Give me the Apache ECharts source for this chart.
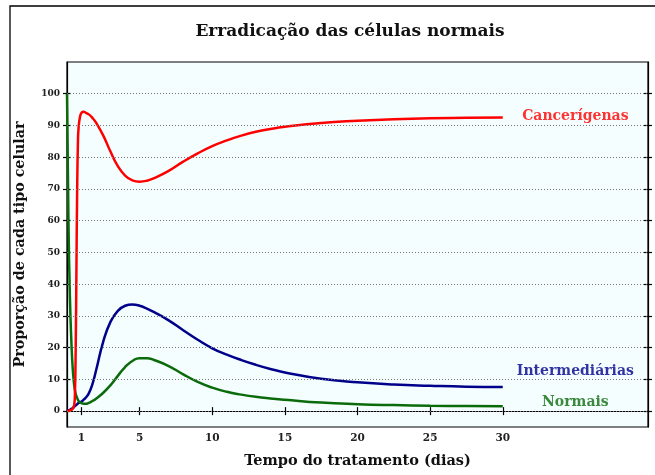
<!DOCTYPE html>
<html>
<head>
    <meta charset="utf-8"/>
    <title>Erradicação das células normais</title>
    <script src="https://cdn.jsdelivr.net/npm/echarts@6/dist/echarts.min.js"></script>
    <style>
        html, body { margin: 0; padding: 0; background: #fff; }
        #main { width: 655px; height: 475px; }
    </style>
</head>
<body>
<div id="main"></div>
<script>
    // tempo (dias)
    let tempo = [0, 0.1, 0.2, 0.3, 0.4, 0.5, 0.55, 0.6, 0.65, 0.7, 0.75, 0.8, 0.9, 1.0, 1.15, 1.3, 1.5, 1.75,
        2, 2.5, 3, 3.5, 4, 4.5, 5, 5.5, 6, 7, 8, 9, 10, 11, 12, 13, 14, 15, 17.5, 20, 22.5, 25, 27.5, 30];
    let cancerigenas = [0, 0.1, 0.2, 0.4, 0.8, 2, 6, 20, 45, 70, 84, 89.5, 92.8, 94, 94.3, 94.0, 93.5, 92.4,
        90.9, 86.8, 81.7, 77.2, 74.2, 72.7, 72.3, 72.6, 73.4, 75.7, 78.6, 81.2, 83.5, 85.3, 86.8, 88.0, 88.9, 89.6,
        90.8, 91.5, 92, 92.3, 92.4, 92.5];
    let intermediarias = [0, 0.2, 0.4, 0.7, 1.0, 1.4, 1.6, 1.8, 2.0, 2.2, 2.4, 2.6, 2.8, 3.0, 3.6, 4.3, 5.6, 8.5,
        12.8, 22, 28.2, 31.6, 33.2, 33.6, 33.2, 32.3, 31.2, 28.6, 25.5, 22.5, 19.8, 17.8, 16.1, 14.6, 13.3, 12.2,
        10.2, 9.1, 8.4, 8.0, 7.7, 7.6];
    let normais = [100, 60, 36, 22, 13, 8, 6.5, 5.4, 4.7, 4.1, 3.6, 3.2, 2.8, 2.5, 2.3, 2.3, 2.6, 3.2,
        3.9, 5.8, 8.2, 11.1, 13.9, 15.8, 16.7, 16.7, 16.1, 14.2, 11.6, 9.2, 7.4, 6.1, 5.2, 4.5, 4.0, 3.6,
        2.7, 2.2, 1.9, 1.7, 1.6, 1.5];

    let xTicks = [1, 5, 10, 15, 20, 25, 30];
    let yTicks = [0, 10, 20, 30, 40, 50, 60, 70, 80, 90, 100];

    let rotulos = ['Cancerígenas', 'Intermediárias', 'Normais'];
    let rotuloX = [35, 35, 35];
    let rotuloY = [92.8, 12.6, 2.8];
    let cores = ['#ff0000', '#00008b', '#0b6b0b'];

    let serif = '"DejaVu Serif", "Liberation Serif", serif';

    function pares(ys) {
        let out = [];
        for (let i = 0; i < tempo.length; i++) out.push([tempo[i], ys[i]]);
        return out;
    }

    let myChart = echarts.init(document.getElementById('main'), null, {renderer: 'canvas'});

    let yBase = {type: 'value', min: -5, max: 110, splitLine: {show: false}};
    let option = {
        animation: false,
        backgroundColor: '#ffffff',
        graphic: [
            {type: 'rect', shape: {x: 10, y: 6, width: 700, height: 520},
                style: {fill: 'none', stroke: '#000', lineWidth: 1.3}, silent: true, z: 0},
            {type: 'text', x: 350, y: 32,
                style: {text: 'Erradicação das células normais', font: 'bold 17px ' + serif,
                    fill: '#111', align: 'center', verticalAlign: 'middle'}}
        ],
        grid: {left: 67, top: 62, right: 7, bottom: 48, show: true,
            backgroundColor: '#f4fefe', borderColor: '#000', borderWidth: 1.2},
        xAxis: [
            {type: 'value', position: 'bottom', min: 0, max: 40,
                name: 'Tempo do tratamento (dias)', nameLocation: 'middle', nameGap: 27,
                nameTextStyle: {fontFamily: serif, fontWeight: 'bold', fontSize: 14.5, color: '#111'},
                axisLine: {lineStyle: {color: '#000', width: 1.2}},
                axisTick: {length: 4, lineStyle: {color: '#000', width: 1.2}, customValues: xTicks},
                axisLabel: {customValues: xTicks, margin: 6, fontFamily: serif, fontWeight: 'bold',
                    fontSize: 10.5, color: '#222'},
                splitLine: {show: false}},
            {type: 'value', position: 'bottom', min: 0, max: 40,
                axisLine: {show: false},
                axisTick: {inside: true, length: 4, lineStyle: {color: '#000', width: 1.2}, customValues: xTicks},
                axisLabel: {show: false}, splitLine: {show: false}}
        ],
        yAxis: [
            Object.assign({}, yBase, {position: 'left',
                name: 'Proporção de cada tipo celular', nameLocation: 'middle', nameGap: 40,
                nameTextStyle: {fontFamily: serif, fontWeight: 'bold', fontSize: 14.3, color: '#111'},
                axisLine: {show: true, lineStyle: {color: '#000', width: 1.2}},
                axisTick: {show: true, length: 4, lineStyle: {color: '#000', width: 1.2}, customValues: yTicks},
                axisLabel: {customValues: yTicks, margin: 7, fontFamily: serif, fontWeight: 'bold',
                    fontSize: 9, color: '#222'}}),
            Object.assign({}, yBase, {position: 'left',
                axisLine: {show: false},
                axisTick: {show: true, inside: true, length: 4, lineStyle: {color: '#000', width: 1.2}, customValues: yTicks},
                axisLabel: {show: false}}),
            Object.assign({}, yBase, {position: 'right',
                axisLine: {show: true, lineStyle: {color: '#000', width: 1.2}},
                axisTick: {show: true, length: 4, lineStyle: {color: '#000', width: 1.2}, customValues: yTicks},
                axisLabel: {show: false}}),
            Object.assign({}, yBase, {position: 'right',
                axisLine: {show: false},
                axisTick: {show: true, inside: true, length: 4, lineStyle: {color: '#000', width: 1.2}, customValues: yTicks},
                axisLabel: {show: false}})
        ],
        series: [
            {
                name: 'grade', type: 'line', data: [], silent: true,
                markLine: {
                    silent: true, symbol: 'none', label: {show: false},
                    lineStyle: {type: [1, 2], color: '#777', width: 1},
                    data: yTicks.map(function (v) { return {yAxis: v}; })
                }
            },
            {name: rotulos[1], type: 'line', data: pares(intermediarias), showSymbol: false,
                smooth: 0.5, lineStyle: {color: cores[1], width: 2.5}, z: 3},
            {name: rotulos[2], type: 'line', data: pares(normais), showSymbol: false,
                smooth: 0.5, lineStyle: {color: cores[2], width: 2.5}, z: 3},
            {name: rotulos[0], type: 'line', data: pares(cancerigenas), showSymbol: false,
                smooth: 0.5, lineStyle: {color: cores[0], width: 2.5}, z: 4},
            {
                name: 'rotulos', type: 'scatter', symbolSize: 0, silent: true, z: 5,
                data: rotulos.map(function (r, i) {
                    return {
                        value: [rotuloX[i], rotuloY[i]],
                        label: {show: true, position: 'inside', formatter: r, color: cores[i],
                            fontFamily: serif, fontWeight: 'bold', fontSize: 14}
                    };
                })
            }
        ]
    };
    myChart.setOption(option);
</script>
</body>
</html>
